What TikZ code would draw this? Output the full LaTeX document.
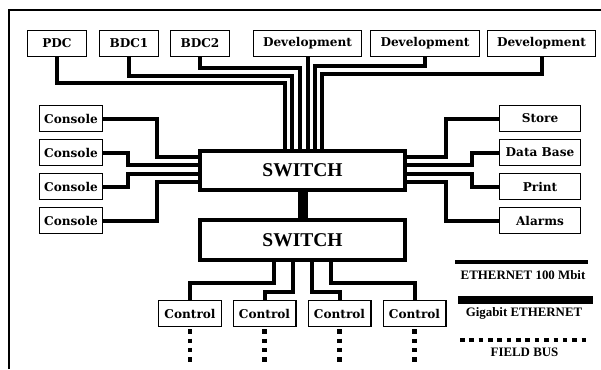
\documentclass[tikz,border=0pt]{standalone}
\usepackage{fontspec}
\setmainfont{DejaVu Serif}
\newfontfamily\legendfont{Liberation Serif}

\begin{document}
\begin{tikzpicture}[x=1pt,y=-1pt,
  line join=miter,
  box/.style={draw, line width=1.2pt, inner sep=0pt, minimum height=25.8pt,
    font=\bfseries\fontsize{12.1}{14}\selectfont},
  switchbox/.style={draw, line width=4pt, inner sep=0pt, minimum width=205pt,
    font=\legendfont\bfseries\fontsize{19.5}{21}\selectfont},
  legendtext/.style={inner sep=0pt, font=\legendfont\bfseries\fontsize{12.9}{15}\selectfont},
  wire/.style={line width=4pt},
  gigabit/.style={line width=10pt},
  fieldbus/.style={line width=4.6pt, dash pattern=on 4.4pt off 4.9pt},
]
\useasboundingbox (0,0) rectangle (601,369);

% frame
\draw[line width=1.1pt] (9,369) -- (9,10) -- (601,10);

% servers and workstations on top
\node[box, minimum width=58.8pt]  (pdc)  at (57,43.5)    {PDC};
\node[box, minimum width=58.8pt]  (bdc1) at (129,43.5)   {BDC1};
\node[box, minimum width=58.8pt]  (bdc2) at (200,43.5)   {BDC2};
\node[box, minimum width=107.8pt] (dev1) at (307.5,43.5) {Development};
\node[box, minimum width=108.8pt] (dev2) at (425,43.5)   {Development};
\node[box, minimum width=107.8pt] (dev3) at (541.5,43.5) {Development};

% consoles on the left
\node[box, minimum width=62.8pt] (con1) at (71,118.5) {Console};
\node[box, minimum width=62.8pt] (con2) at (71,152.5) {Console};
\node[box, minimum width=62.8pt] (con3) at (71,186.5) {Console};
\node[box, minimum width=62.8pt] (con4) at (71,220.5) {Console};

% services on the right
\node[box, minimum width=80.8pt] (store) at (540,118.5) {Store};
\node[box, minimum width=80.8pt] (db)    at (540,152.5) {Data Base};
\node[box, minimum width=80.8pt] (print) at (540,186.5) {Print};
\node[box, minimum width=80.8pt] (alarm) at (540,220.5) {Alarms};

% switches
\node[switchbox, minimum height=39pt] (sw1) at (302.5,170.5) {SWITCH};
\node[switchbox, minimum height=40pt] (sw2) at (302.5,240)   {SWITCH};

% controllers
\node[box, minimum width=62.8pt] (ctl1) at (190,313.5)   {Control};
\node[box, minimum width=62.8pt] (ctl2) at (264.5,313.5) {Control};
\node[box, minimum width=62.8pt] (ctl3) at (339.5,313.5) {Control};
\node[box, minimum width=62.8pt] (ctl4) at (414.5,313.5) {Control};

% top links
\draw[wire] (pdc.south)  -- (pdc.south |- 0,83)  -| (sw1.north -| 284.5,0);
\draw[wire] (bdc1.south) -- (bdc1.south |- 0,75.5) -| (sw1.north -| 292,0);
\draw[wire] (bdc2.south) -- (bdc2.south |- 0,68) -| (sw1.north -| 299.5,0);
\draw[wire] (dev1.south) -- (sw1.north -| dev1.south);
\draw[wire] (dev2.south) -- (dev2.south |- 0,66) -| (sw1.north -| 314.5,0);
\draw[wire] (dev3.south) -- (dev3.south |- 0,74) -| (sw1.north -| 322,0);

% left links
\draw[wire] (con1.east) -| (157,157)   -- (sw1.west |- 0,157);
\draw[wire] (con2.east) -| (128,165.3) -- (sw1.west |- 0,165.3);
\draw[wire] (con3.east) -| (128,173.6) -- (sw1.west |- 0,173.6);
\draw[wire] (con4.east) -| (157,181.9) -- (sw1.west |- 0,181.9);

% right links
\draw[wire] (store.west) -| (446,157)   -- (sw1.east |- 0,157);
\draw[wire] (db.west)    -| (472,165.3) -- (sw1.east |- 0,165.3);
\draw[wire] (print.west) -| (472,173.6) -- (sw1.east |- 0,173.6);
\draw[wire] (alarm.west) -| (446,181.9) -- (sw1.east |- 0,181.9);

% backbone between the switches
\draw[gigabit] (sw1.south -| 303,0) -- (sw2.north -| 303,0);

% bottom links
\draw[wire] (ctl1.north) -- (ctl1.north |- 0,283) -| (sw2.south -| 274,0);
\draw[wire] (ctl2.north) -- (ctl2.north |- 0,292) -| (sw2.south -| 293,0);
\draw[wire] (ctl3.north) -- (ctl3.north |- 0,292) -| (sw2.south -| 312,0);
\draw[wire] (ctl4.north) -- (ctl4.north |- 0,283) -| (sw2.south -| 331,0);

% field buses
\foreach \c in {ctl1,ctl2,ctl3,ctl4}
  \draw[fieldbus] (\c.south |- 0,329.3) -- (\c.south |- 0,362);

% legend
\coordinate (e1) at (455,262);
\coordinate (e2) at (588,262);
\draw[wire] (e1) -- (e2);
\node[legendtext] (te) at (523,275.5) {ETHERNET 100 Mbit};

\coordinate (g1) at (458,300);
\coordinate (g2) at (593,300);
\draw[line width=8pt] (g1) -- (g2);
\node[legendtext] (tg) at (524,313.5) {Gigabit ETHERNET};

\coordinate (f1) at (460,339.7);
\coordinate (f2) at (590,339.7);
\draw[line width=4pt, dash pattern=on 4.6pt off 4.75pt] (f1) -- (f2);
\node[legendtext] (tf) at (524.5,352.5) {FIELD BUS};
\end{tikzpicture}
\end{document}
